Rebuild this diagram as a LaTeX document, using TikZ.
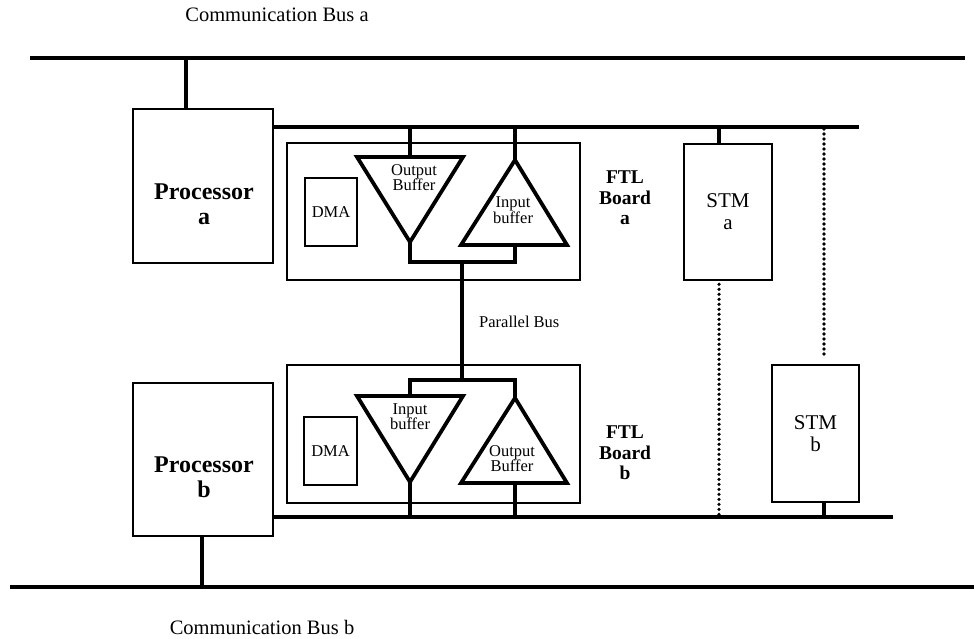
\documentclass[tikz,border=0pt]{standalone}
\usepackage{fontspec}
\setmainfont{Liberation Serif}
\begin{document}
\begin{tikzpicture}[x=1pt,y=-1pt,
  box/.style={draw, line width=2.6pt, inner sep=0pt, align=center},
  bus/.style={line width=3.8pt},
  wire/.style={line width=3.2pt},
  tri/.style={draw, line width=3.8pt, line join=miter},
  dotbus/.style={line width=3.6pt, line cap=round, dash pattern=on 0pt off 5pt},
  lbl/.style={font=\fontsize{20.5}{22}\selectfont},
  proctxt/.style={font=\fontsize{24}{25}\selectfont\bfseries, align=center},
  ftltxt/.style={font=\fontsize{19.5}{20.5}\selectfont\bfseries, align=center},
  stmtxt/.style={font=\fontsize{21}{22}\selectfont},
  dmatxt/.style={font=\fontsize{16.5}{17}\selectfont},
  buftxt/.style={font=\fontsize{16.5}{15.5}\selectfont, align=center, inner sep=0pt}
]
\useasboundingbox (0,0) rectangle (974,638);

% ---- communication buses
\coordinate (busAL) at (30,58);
\coordinate (busAR) at (965,58);
\coordinate (busBL) at (10,587);
\coordinate (busBR) at (974,587);
\draw[bus] (busAL) -- (busAR);
\draw[bus] (busBL) -- (busBR);
\node[lbl] (cbA) at (277,15) {Communication Bus a};
\node[lbl] (cbB) at (262,627) {Communication Bus b};

% ---- processors
\node[box, minimum width=140pt, minimum height=154pt] (procA) at (203,186) {};
\node[box, minimum width=140pt, minimum height=153pt] (procB) at (203,459.5) {};
\node[proctxt] (procAt) at (204,204) {Processor\\a};
\node[proctxt] (procBt) at (204,477) {Processor\\b};

\coordinate (tPA) at (186,58);
\draw[wire] (tPA) -- (tPA |- procA.north);
\coordinate (tPB) at (202,587);
\draw[wire] (tPB) -- (tPB |- procB.south);

% ---- inner buses
\coordinate (ibusA) at (859,127);
\coordinate (ibusB) at (893,517);
\draw[wire] (procA.east |- ibusA) -- (ibusA);
\draw[wire] (procB.east |- ibusB) -- (ibusB);

% ---- FTL boards
\node[box, minimum width=293pt, minimum height=137pt] (ftlA) at (433.5,211.5) {};
\node[box, minimum width=293pt, minimum height=138pt] (ftlB) at (433.5,434) {};
\node[ftltxt] (ftlAt) at (625,198) {FTL\\Board\\a};
\node[ftltxt] (ftlBt) at (625,453) {FTL\\Board\\b};

\node[box, dmatxt, minimum width=52pt, minimum height=68pt] (dmaA) at (331,212) {DMA};
\node[box, dmatxt, minimum width=53pt, minimum height=68pt] (dmaB) at (330.5,451) {DMA};

% ---- buffers of board a
\coordinate (oaL) at (357,157); \coordinate (oaR) at (463,157);
\coordinate (oaB) at (410,242); \coordinate (oaT) at (410,157);
\draw[tri] (oaL) -- (oaR) -- (oaB) -- cycle;
\node[buftxt] (oaTx) at (414,177.5) {Output\\Buffer};

\coordinate (iaT) at (515,160); \coordinate (iaL) at (461,245);
\coordinate (iaR) at (567,245); \coordinate (iaB) at (515,245);
\draw[tri] (iaT) -- (iaR) -- (iaL) -- cycle;
\node[buftxt] (iaTx) at (513,210) {Input\\buffer};

% ---- buffers of board b
\coordinate (ibL) at (357,396); \coordinate (ibR) at (463,396);
\coordinate (ibB) at (410,482); \coordinate (ibT) at (410,396);
\draw[tri] (ibL) -- (ibR) -- (ibB) -- cycle;
\node[buftxt] (ibTx) at (410,416.5) {Input\\buffer};

\coordinate (obT) at (515,398); \coordinate (obL) at (461,483);
\coordinate (obR) at (567,483); \coordinate (obB) at (515,483);
\draw[tri] (obT) -- (obR) -- (obL) -- cycle;
\node[buftxt] (obTx) at (512,458.5) {Output\\Buffer};

% ---- buffer wiring
\draw[wire] (oaT |- ibusA) -- (oaT);
\draw[wire] (iaT |- ibusA) -- (iaT);
\coordinate (jA) at (462,262);
\coordinate (jB) at (462,380);
\draw[wire] (oaB) -- (oaB |- jA) -- (iaB |- jA) -- (iaB);
\draw[wire] (jA) -- (jB);
\draw[wire] (ibT) -- (ibT |- jB) -- (obT |- jB) -- (obT);
\draw[wire] (ibB) -- (ibB |- ibusB);
\draw[wire] (obB) -- (obB |- ibusB);
\node[font=\fontsize{16.5}{17}\selectfont, anchor=west, inner sep=0pt] (pbus) at (479,322) {Parallel Bus};

% ---- STMs
\node[box, stmtxt, minimum width=88pt, minimum height=136pt] (stmA) at (728,212) {STM\\a};
\node[box, stmtxt, minimum width=87pt, minimum height=137pt] (stmB) at (815.5,433.5) {STM\\b};
\coordinate (tSA) at (719,127);
\coordinate (tSB) at (824,127);
\draw[wire] (tSA) -- (tSA |- stmA.north);
\draw[dotbus] ([yshift=-3pt]tSA |- stmA.south) -- (tSA |- ibusB);
\draw[dotbus] ([yshift=-2pt]tSB) -- ([yshift=6pt]tSB |- stmB.north);
\draw[wire] (tSB |- stmB.south) -- (tSB |- ibusB);
\end{tikzpicture}
\end{document}
